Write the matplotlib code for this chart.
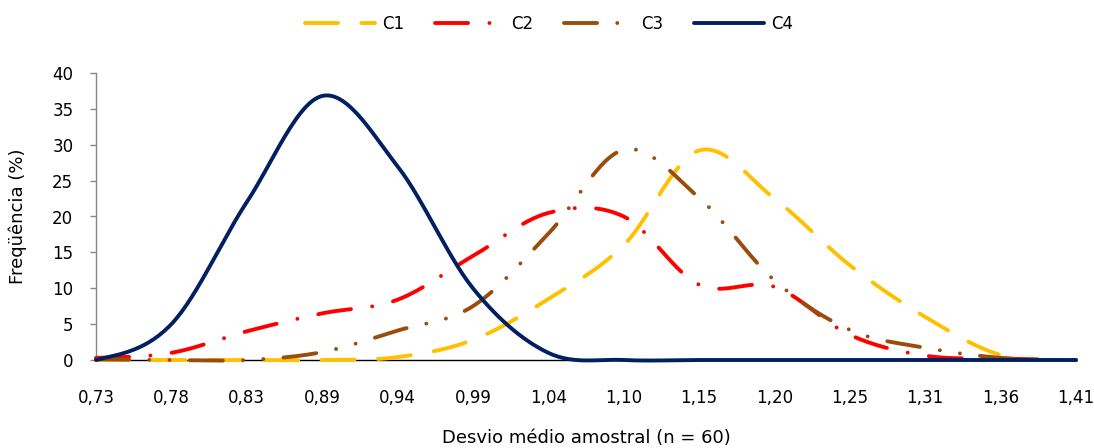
import numpy as np
import matplotlib
matplotlib.use("Agg")
import matplotlib.pyplot as plt

plt.rcParams['font.family'] = ['DejaVu Sans']

# ---- data ----
x_labels = ["0,73", "0,78", "0,83", "0,89", "0,94", "0,99", "1,04",
            "1,10", "1,15", "1,20", "1,25", "1,31", "1,36", "1,41"]
c1 = [0, 0, 0, 0, 0.4, 2.8, 8.5, 16.0, 29.2, 22.5, 13.2, 6.0, 0.7, 0]
c2 = [0.3, 1.0, 4.0, 6.5, 8.4, 14.5, 20.5, 20.0, 10.5, 10.2, 3.5, 0.6, 0.2, 0]
c3 = [0.1, 0, 0, 1.1, 4.1, 7.5, 17.6, 29.3, 22.6, 11.1, 4.2, 1.7, 0.3, 0]
c4 = [0, 5.0, 22.0, 36.8, 27.0, 10.0, 1.0, 0, 0, 0, 0, 0, 0, 0]
series_names = ["C1", "C2", "C3", "C4"]
y_ticks = [0, 5, 10, 15, 20, 25, 30, 35, 40]


def smooth(values, n=30):
    """Excel-like smoothed line (Catmull-Rom through the data points)."""
    v = np.asarray(values, dtype=float)
    p = np.concatenate([[v[0]], v, [v[-1]]])
    xs, ys = [], []
    for i in range(len(v) - 1):
        p0, p1, p2, p3 = p[i], p[i + 1], p[i + 2], p[i + 3]
        t = np.linspace(0, 1, n, endpoint=False)
        y = 0.5 * ((2 * p1) + (-p0 + p2) * t + (2 * p0 - 5 * p1 + 4 * p2 - p3) * t ** 2
                   + (-p0 + 3 * p1 - 3 * p2 + p3) * t ** 3)
        xs.append(i + t)
        ys.append(y)
    xs.append([len(v) - 1])
    ys.append([v[-1]])
    return np.concatenate(xs), np.concatenate(ys)


W, H = 1094, 448
fig = plt.figure(figsize=(W / 100, H / 100), dpi=100)
ax = fig.add_axes([96 / W, (H - 360) / H, 980 / W, 287 / H])

colors = ["#FFC000", "#FF0000", "#9A4D0B", "#002060"]
lw = 2.8
dashes = [
    (8.5, 6),
    (8.5, 5.5, 0.01, 5.5),
    (8.5, 5.2, 0.01, 5.2, 0.01, 5.2),
    None,
]

for vals, name, col, ds in zip([c1, c2, c3, c4], series_names, colors, dashes):
    xs, ys = smooth(vals)
    if ds is None:
        ax.plot(xs, ys, color=col, lw=lw, label=name, solid_capstyle='round',
                solid_joinstyle='round', clip_on=False, zorder=5)
    else:
        ax.plot(xs, ys, color=col, lw=lw, label=name, dashes=ds,
                dash_capstyle='round', dash_joinstyle='round', clip_on=False, zorder=4)

ax.set_xlim(0, len(x_labels) - 1)
ax.set_ylim(0, 40)
ax.set_xticks(range(len(x_labels)))
ax.set_xticklabels(x_labels)
ax.set_yticks(y_ticks)
ax.set_yticklabels([str(v) for v in y_ticks])

for s in ['top', 'right']:
    ax.spines[s].set_visible(False)
ax.spines['left'].set_color('#868686')
ax.spines['left'].set_linewidth(1.0)
ax.spines['bottom'].set_color('black')
ax.spines['bottom'].set_linewidth(1.0)
ax.spines['bottom'].set_zorder(3)

ax.tick_params(axis='x', length=0, pad=21, labelsize=12, colors='black')
ax.tick_params(axis='y', length=4.3, width=1.0, color='#868686', pad=12,
               labelsize=12, labelcolor='black', direction='out')

fig.text(586 / W, 1 - 438 / H, "Desvio médio amostral (n = 60)", ha='center',
         va='center', fontsize=13)
fig.text(18 / W, 1 - 216 / H, "Freqüência (%)", ha='center', va='center',
         rotation=90, fontsize=13)

fig.legend(loc='center', bbox_to_anchor=(549 / W, 1 - 24 / H), ncol=4,
           frameon=False, fontsize=12, handlelength=4.2, handletextpad=0.4,
           columnspacing=1.85)

fig.savefig("out.png", dpi=100)
